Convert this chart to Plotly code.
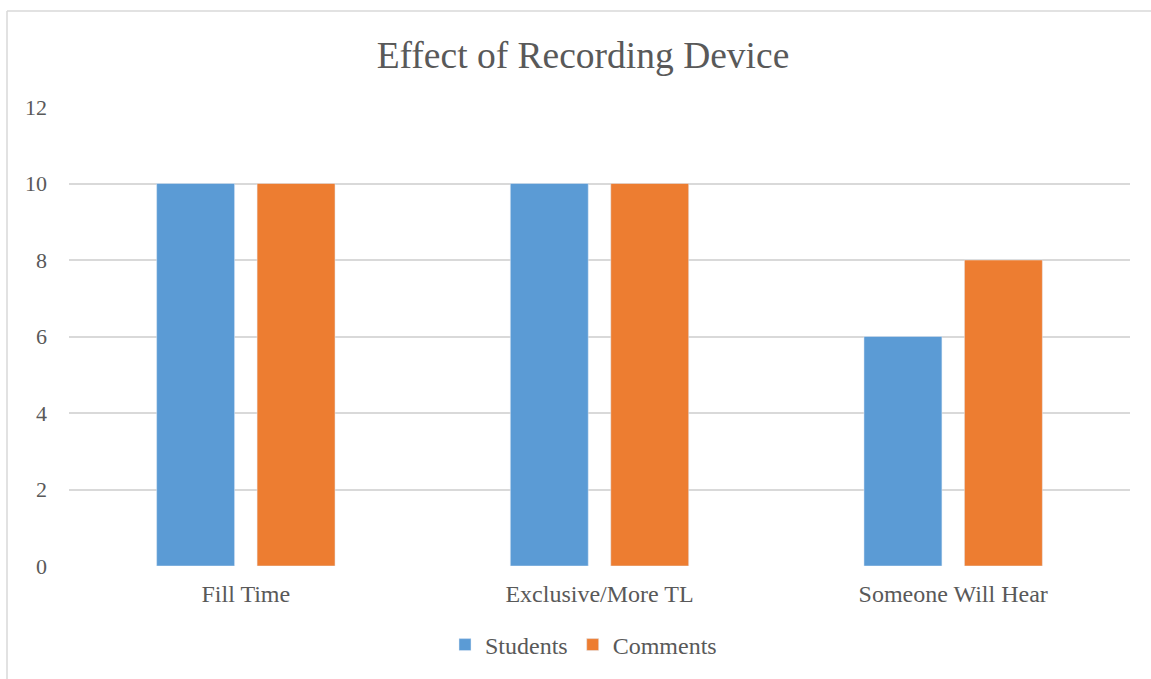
import plotly.graph_objects as go

categories = ["Fill Time", "Exclusive/More TL", "Someone Will Hear"]
students = [10, 10, 6]
comments = [10, 10, 8]
y_ticks = [0, 2, 4, 6, 8, 10, 12]

FONT = "Liberation Serif, Times New Roman, serif"
TXT = "#595959"

fig = go.Figure()
fig.add_trace(go.Bar(name="Students", x=categories, y=students, marker_color="#5B9BD5"))
fig.add_trace(go.Bar(name="Comments", x=categories, y=comments, marker_color="#ED7D31"))

W, H = 1151, 679
L, R, T, B = 69, 21, 107, 113
pw, ph = W - L - R, H - T - B

fig.update_layout(
    width=W, height=H,
    margin=dict(l=L, r=R, t=T, b=B),
    paper_bgcolor="white", plot_bgcolor="white",
    font=dict(family=FONT, color=TXT, size=24),
    title=dict(text="Effect of Recording Device", x=583 / W, xanchor="center",
               y=1 - 55 / H, yanchor="middle",
               font=dict(family=FONT, size=37.5, color=TXT)),
    barmode="group", bargap=0.432, bargroupgap=0.224,
    showlegend=True,
    legend=dict(orientation="h", x=0.5 - 16 / pw, xanchor="center", y=(566 - 645) / ph, yanchor="middle",
                font=dict(family=FONT, size=24, color=TXT), itemwidth=30, traceorder="normal"),
    xaxis=dict(showgrid=False, showline=False, zeroline=False, ticks="",
               tickfont=dict(family=FONT, size=24, color=TXT), ticklabelstandoff=11),
    yaxis=dict(range=[0, 12], tickvals=y_ticks, showgrid=True, gridcolor="#D9D9D9", gridwidth=1.5,
               zeroline=False, showline=False, ticks="",
               tickfont=dict(family=FONT, size=22, color=TXT), ticklabelstandoff=21),
)

# outer chart border (left and top edges visible)
fig.add_shape(type="line", xref="paper", yref="paper",
              x0=(7 - L) / pw, x1=(W + 20 - L) / pw, y0=(566 - 11) / ph, y1=(566 - 11) / ph,
              line=dict(color="#D9D9D9", width=1.5))
fig.add_shape(type="line", xref="paper", yref="paper",
              x0=(7 - L) / pw, x1=(7 - L) / pw, y0=(566 - 11) / ph, y1=(566 - (H + 20)) / ph,
              line=dict(color="#D9D9D9", width=1.5))

fig.write_html("out.html", config={"displayModeBar": False},
               post_script="document.body.style.margin='0';document.body.style.padding='0';")
